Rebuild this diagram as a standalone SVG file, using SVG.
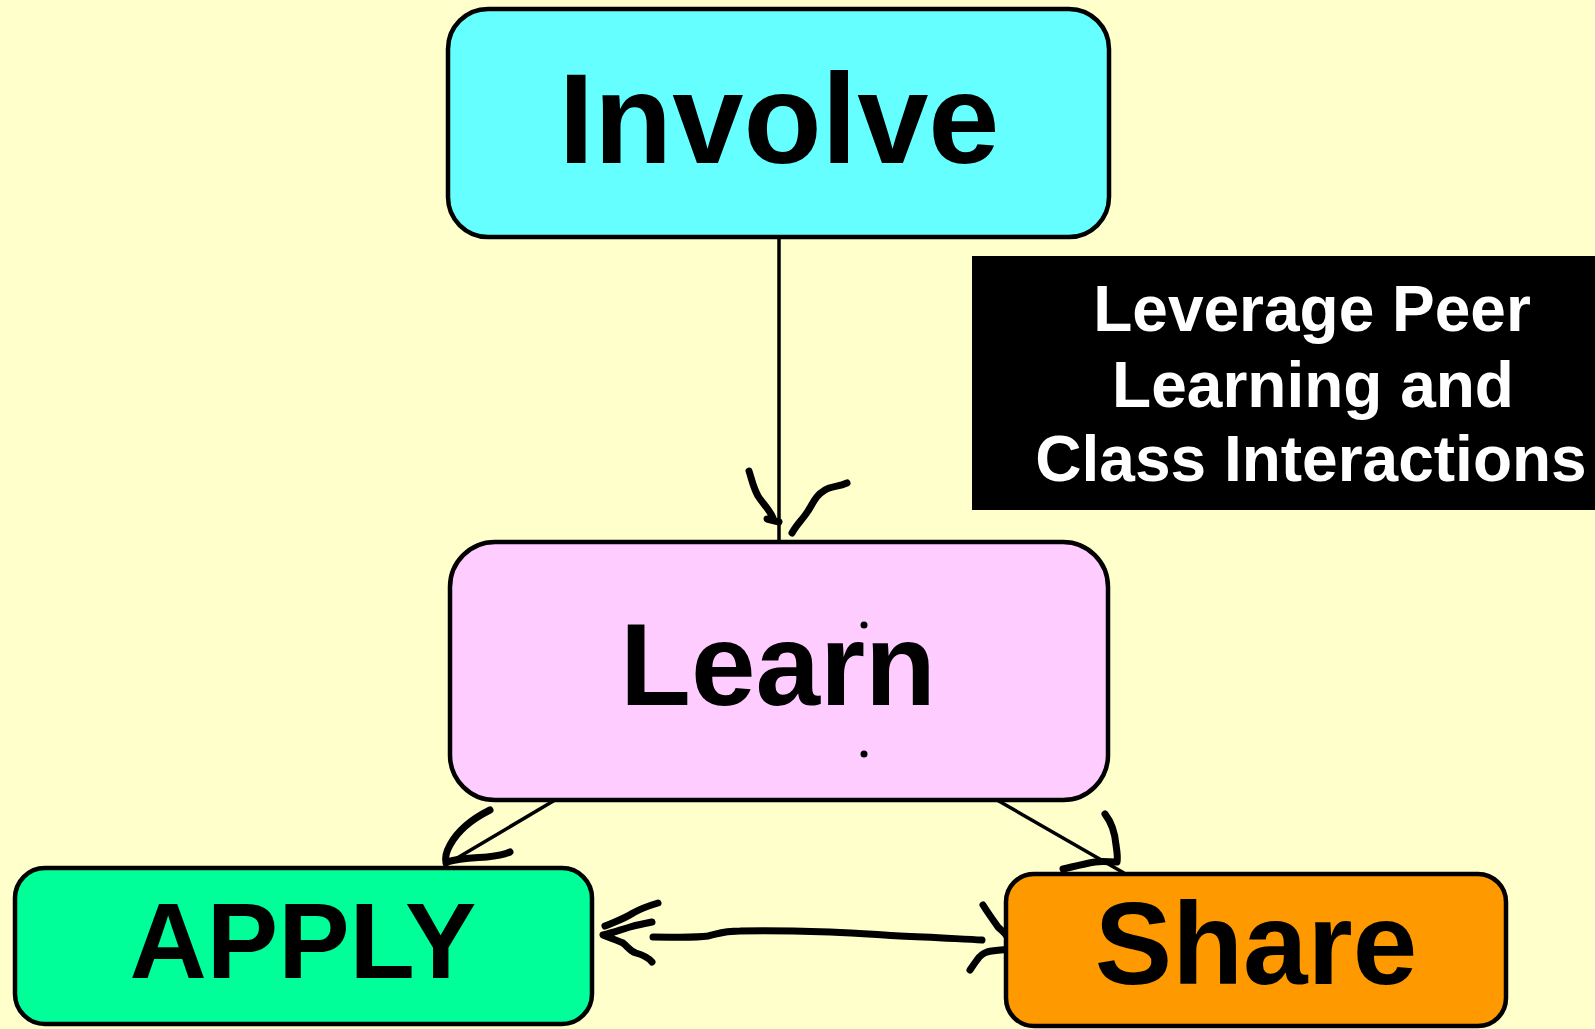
<svg xmlns="http://www.w3.org/2000/svg" width="1595" height="1029" viewBox="0 0 1595 1029">
<style>
.box{stroke:#000;stroke-width:4.5}
.lbl{font-family:"Liberation Sans",Arial,sans-serif;font-weight:bold;fill:#000;text-anchor:middle}
.note{font-family:"Liberation Sans",Arial,sans-serif;font-weight:bold;fill:#fff;text-anchor:middle;font-size:64px}
.line{stroke:#000;stroke-width:3.5;fill:none}
.ink{stroke:#000;stroke-width:7;fill:none;stroke-linecap:round;stroke-linejoin:round}
</style>
<rect width="1595" height="1029" fill="#FFFFCC"/>
<g id="connectors">
<line class="line" x1="779" y1="237" x2="779" y2="542"/>
<path class="ink" d="M749,471 C752,480 753,487 758,496 C763,504 770,510 773,518 C770,519 767,519 767,519 L779,522"/>
<path class="ink" d="M847,483 C838,487 831,486 825,490 C815,496 814,502 808,511 C803,519 797,524 792,533"/>
<line class="line" x1="555" y1="800" x2="447" y2="864"/>
<path class="ink" d="M490,810 C470,820 457,832 450,845 C446,852 445,858 446,863"/>
<path class="ink" d="M447,862 C460,858 475,858 487,857 C497,856 504,855 510,852"/>
<line class="line" x1="997" y1="800" x2="1124" y2="873"/>
<path class="ink" d="M1105,814 C1112,823 1115,833 1116,845 C1117,852 1118,857 1117,862 C1110,862 1102,861 1095,862 C1083,864 1072,867 1063,869"/>
<path class="ink" d="M658,903 C648,906 640,909 633,913 C624,919 614,922 605,926"/>
<path class="ink" d="M652,922 C643,924 636,925 630,927 C620,930 612,933 603,935 C610,938 617,940 623,943 C628,947 630,951 636,953 C643,955 648,957 652,962"/>
<path class="ink" d="M653,937 C675,937 695,938 708,936 C718,934 722,931 740,931 C770,930 800,931 830,932 C860,933 880,935 900,936 C930,937 960,939 982,940"/>
<path class="ink" d="M983,905 C988,913 993,920 998,927 C1003,932 1008,935 1008,940 C1009,945 1012,948 1012,949 C1005,950 995,950 987,952 C981,954 979,957 977,960 C974,964 972,967 970,970"/>
</g>
<g id="involve">
<rect class="box" x="448" y="9" width="661" height="228" rx="40" fill="#66FFFF"/>
<text class="lbl" x="779" y="163" font-size="128">Involve</text>
</g>
<g id="note">
<rect x="972" y="256" width="623" height="254" fill="#000"/>
<text class="note" x="1312" y="331">Leverage Peer</text>
<text class="note" x="1313" y="407">Learning and</text>
<text class="note" x="1311" y="481">Class Interactions</text>
</g>
<g id="learn">
<rect class="box" x="450" y="542" width="658" height="258" rx="45" fill="#FFCCFF"/>
<text class="lbl" x="778" y="705" font-size="116">Learn</text>
<circle cx="864" cy="625" r="3.5" fill="#000"/>
<circle cx="864" cy="754" r="3.5" fill="#000"/>
</g>
<g id="apply">
<rect class="box" x="15" y="868" width="577" height="156" rx="30" fill="#00FF99"/>
<text class="lbl" x="303" y="978" font-size="107">APPLY</text>
</g>
<g id="share">
<rect class="box" x="1006" y="874" width="500" height="152" rx="28" fill="#FF9900"/>
<text class="lbl" x="1256" y="984" font-size="116">Share</text>
</g>
</svg>
